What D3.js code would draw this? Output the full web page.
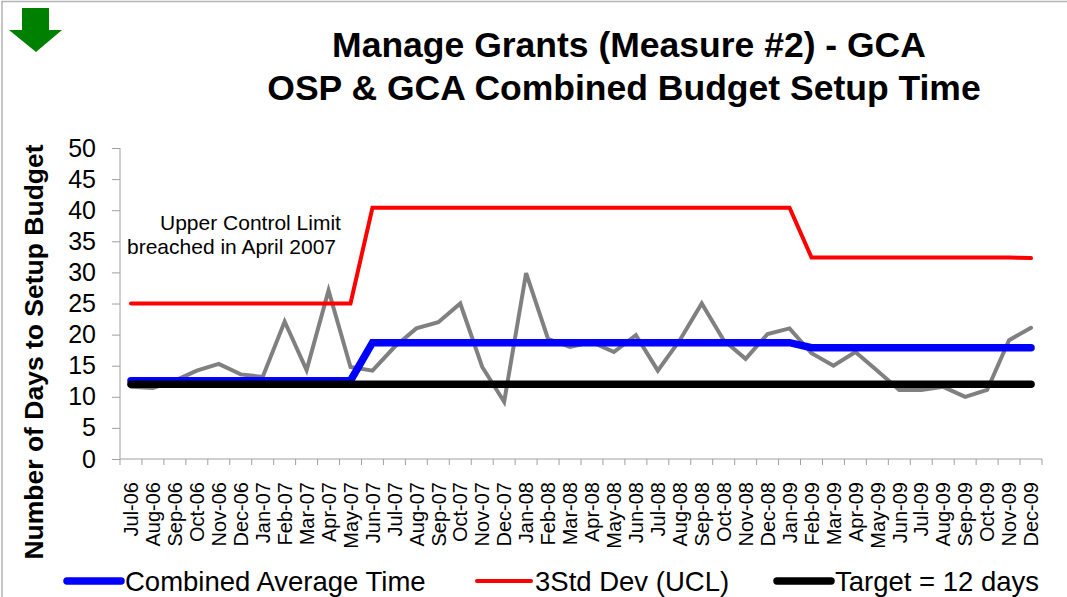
<!DOCTYPE html>
<html>
<head>
<meta charset="utf-8">
<script src="https://cdn.jsdelivr.net/npm/d3@7/dist/d3.min.js"></script>
<style>
  body { margin: 0; background: #fff; }
  svg { display: block; font-family: "Liberation Sans", Arial, sans-serif; }
</style>
</head>
<body>
<svg id="chart" width="1067" height="597"></svg>
<script>
// month categories Jul-06 .. Dec-09
const months = [
  "Jul-06", "Aug-06", "Sep-06", "Oct-06", "Nov-06", "Dec-06",
  "Jan-07", "Feb-07", "Mar-07", "Apr-07", "May-07", "Jun-07",
  "Jul-07", "Aug-07", "Sep-07", "Oct-07", "Nov-07", "Dec-07",
  "Jan-08", "Feb-08", "Mar-08", "Apr-08", "May-08", "Jun-08",
  "Jul-08", "Aug-08", "Sep-08", "Oct-08", "Nov-08", "Dec-08",
  "Jan-09", "Feb-09", "Mar-09", "Apr-09", "May-09", "Jun-09",
  "Jul-09", "Aug-09", "Sep-09", "Oct-09", "Nov-09", "Dec-09"
];

// monthly setup time (gray)
const setupDays = [
  11.6, 11.4, 12.6, 14.2, 15.3, 13.6,
  13.2, 22.1, 14.3, 27.1, 14.8, 14.2,
  18, 21, 22, 25, 14.8, 9.2,
  29.9, 19.3, 18, 18.8, 17.2, 19.9,
  14.2, 19.1, 25, 19.1, 16.1, 20.1,
  21, 17, 15, 17.2, 14.2, 11.1,
  11.1, 11.6, 10, 11.1, 19.1, 21.1
];

// combined average time (blue)
const avgTime = [
  12.6, 12.6, 12.6, 12.6, 12.6, 12.6,
  12.6, 12.6, 12.6, 12.6, 12.6, 18.7,
  18.7, 18.7, 18.7, 18.7, 18.7, 18.7,
  18.7, 18.7, 18.7, 18.7, 18.7, 18.7,
  18.7, 18.7, 18.7, 18.7, 18.7, 18.7,
  18.7, 17.9, 17.9, 17.9, 17.9, 17.9,
  17.9, 17.9, 17.9, 17.9, 17.9, 17.9
];

// 3 std dev upper control limit (red)
const ucl = [
  25, 25, 25, 25, 25, 25,
  25, 25, 25, 25, 25, 40.4,
  40.4, 40.4, 40.4, 40.4, 40.4, 40.4,
  40.4, 40.4, 40.4, 40.4, 40.4, 40.4,
  40.4, 40.4, 40.4, 40.4, 40.4, 40.4,
  40.4, 32.4, 32.4, 32.4, 32.4, 32.4,
  32.4, 32.4, 32.4, 32.4, 32.4, 32.3
];

const target = months.map(() => 12);
const yTicks = [0, 5, 10, 15, 20, 25, 30, 35, 40, 45, 50];

const svg = d3.select("#chart");

// frame
svg.append("rect")
  .attr("x", 2).attr("y", 1.5).attr("width", 1200).attr("height", 800)
  .attr("fill", "none").attr("stroke", "#b4b4b4").attr("stroke-width", 1.5);

// green down arrow
svg.append("path")
  .attr("d", "M22,8 H49 V30 H62 L36,52 L9,30 H22 Z")
  .attr("fill", "#008000");

const x = d3.scaleBand().domain(months).range([120, 1042]);
const y = d3.scaleLinear().domain([0, 50]).range([459, 148]);
const cx = m => x(m) + x.bandwidth() / 2;

// title
const title = svg.append("text")
  .attr("text-anchor", "middle")
  .attr("font-weight", "bold")
  .attr("font-size", 35.5)
  .attr("fill", "#000");
title.append("tspan").attr("x", 629).attr("y", 57).text("Manage Grants (Measure #2) - GCA");
title.append("tspan").attr("x", 624).attr("y", 100).text("OSP & GCA Combined Budget Setup Time");

// y axis
const yAxis = svg.append("g")
  .attr("transform", "translate(120,0)")
  .call(d3.axisLeft(y).tickValues(yTicks).tickSize(8).tickPadding(16));
yAxis.select(".domain").attr("stroke", "#a0a0a0").attr("d", "M0,148V459");
yAxis.selectAll(".tick line").attr("stroke", "#a0a0a0");
yAxis.selectAll(".tick text")
  .attr("font-family", "'Liberation Sans', Arial, sans-serif")
  .attr("font-size", 25).attr("fill", "#000");

svg.append("text")
  .attr("transform", "translate(43,352) rotate(-90)")
  .attr("text-anchor", "middle")
  .attr("font-weight", "bold")
  .attr("font-size", 26.5)
  .text("Number of Days to Setup Budget");

// x axis
const xAxis = svg.append("g")
  .attr("transform", "translate(0,459)")
  .call(d3.axisBottom(x).tickSize(0).tickPadding(0));
xAxis.select(".domain").attr("stroke", "#a0a0a0").attr("d", "M120,0H1042");
xAxis.selectAll(".tick text")
  .attr("font-family", "'Liberation Sans', Arial, sans-serif")
  .attr("font-size", 20).attr("fill", "#000")
  .attr("text-anchor", "end")
  .attr("transform", "translate(0,23) rotate(-90)")
  .attr("x", 0).attr("y", 0).attr("dy", "0.36em");
xAxis.selectAll("line.btick")
  .data(months.concat(["end"]))
  .join("line")
  .attr("class", "btick")
  .attr("x1", (d, i) => i < months.length ? x(d) : 1042)
  .attr("x2", (d, i) => i < months.length ? x(d) : 1042)
  .attr("y1", 0).attr("y2", 6)
  .attr("stroke", "#a0a0a0");

// series
const line = d3.line().x((d, i) => cx(months[i])).y(d => y(d));
const series = [
  { values: setupDays, color: "#808080", width: 4 },
  { values: ucl, color: "#ff0000", width: 4 },
  { values: avgTime, color: "#0000ff", width: 7.5 },
  { values: target, color: "#000000", width: 7.5 }
];
svg.append("g").selectAll("path")
  .data(series)
  .join("path")
  .attr("d", d => line(d.values))
  .attr("fill", "none")
  .attr("stroke", d => d.color)
  .attr("stroke-width", d => d.width)
  .attr("stroke-linecap", "round");

// annotation
const note = svg.append("text").attr("font-size", 21).attr("fill", "#000");
note.append("tspan").attr("x", 160).attr("y", 230).text("Upper Control Limit");
note.append("tspan").attr("x", 127).attr("y", 254).text("breached in April 2007");

// legend
const legend = [
  { label: "Combined Average Time", color: "#0000ff", width: 7.5, x: 67 },
  { label: "3Std Dev (UCL)", color: "#ff0000", width: 4, x: 477 },
  { label: "Target = 12 days", color: "#000000", width: 7.5, x: 777 }
];
const lg = svg.append("g").selectAll("g").data(legend).join("g")
  .attr("transform", d => `translate(${d.x},581)`);
lg.append("line")
  .attr("x1", 0).attr("x2", 54)
  .attr("stroke", d => d.color).attr("stroke-width", d => d.width)
  .attr("stroke-linecap", "round");
lg.append("text")
  .attr("x", 58).attr("y", 10)
  .attr("font-size", 27.5)
  .text(d => d.label);
</script>
</body>
</html>
